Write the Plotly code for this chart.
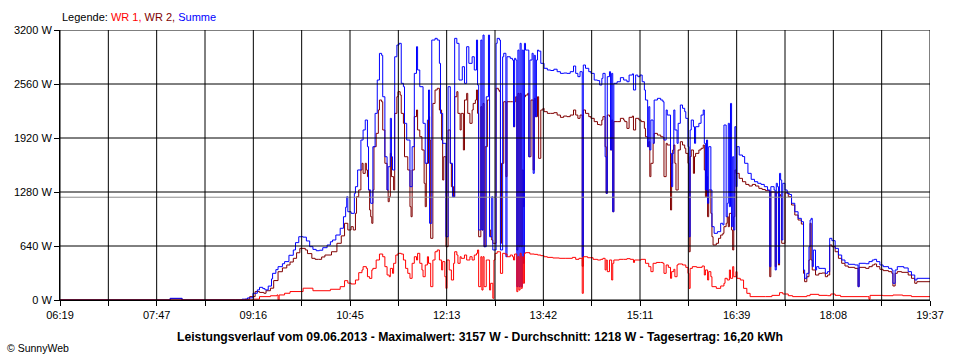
import plotly.graph_objects as go

# ---- data (time in minutes after midnight, power in W) ----
X_START, X_END = 379, 1177          # 06:19 ... 19:37
X_LABELS = ["06:19", "07:47", "09:16", "10:45", "12:13", "13:42", "15:11", "16:39", "18:08", "19:37"]
Y_TICKS = [0, 640, 1280, 1920, 2560, 3200]
Y_LABELS = ["0 W", "640 W", "1280 W", "1920 W", "2560 W", "3200 W"]
AVERAGE_W = 1218

WR1 = [(379,0),(556,10),(562,40),(572,50),(578,60),(579,0),(580,60),(585,80),(590,100),(602,140),(611,110),(627,127),(636,158),(640,229),(643,200),(646,190),(650,237),(653,324),(656,356),(657,395),(660,375),(661,276),(663,256),(665,356),(666,375),(669,474),(672,545),(675,513),(677,395),(679,296),(681,276),(682,375),(684,316),(685,435),(687,533),(689,553),(692,545),(694,474),(696,375),(698,316),(700,257),(702,435),(704,513),(706,474),(707,553),(709,435),(711,356),(712,276),(714,415),(716,513),(717,435),(719,158),(721,474),(723,572),(725,593),(727,474),(729,356),(730,455),(732,276),(733,138),(734,474),(736,356),(738,237),(740,435),(741,572),(743,533),(744,435),(746,513),(747,494),(750,533),(752,474),(755,513),(757,474),(759,533),(761,553),(762,593),(763,158),(765,513),(766,118),(767,513),(768,158),(770,474),(771,474),(773,118),(774,198),(776,20),(777,474),(778,553),(780,572),(782,572),(783,316),(785,553),(787,545),(789,513),(792,533),(794,513),(795,474),(796,545),(798,99),(799,513),(800,118),(801,553),(802,138),(803,513),(804,198),(805,553),(806,561),(810,545),(814,541),(817,533),(820,525),(823,513),(826,505),(831,498),(837,494),(843,494),(849,505),(852,482),(855,494),(858,79),(859,513),(863,501),(868,482),(872,474),(875,482),(877,494),(879,356),(880,474),(881,336),(883,474),(885,237),(886,435),(887,474),(892,482),(896,482),(899,490),(902,482),(905,445),(906,474),(912,482),(916,435),(919,395),(921,336),(923,435),(926,445),(930,445),(932,435),(933,316),(935,415),(937,387),(939,257),(940,336),(942,364),(943,276),(945,415),(946,427),(950,415),(953,387),(955,316),(956,138),(957,375),(959,395),(963,387),(968,403),(970,296),(971,356),(973,237),(974,336),(976,276),(977,158),(981,138),(985,166),(988,198),(989,257),(991,237),(993,356),(994,257),(996,395),(997,276),(999,336),(1000,257),(1003,237),(1006,138),(1009,79),(1012,40),(1026,40),(1032,55),(1039,87),(1042,71),(1047,51),(1051,40),(1064,51),(1067,67),(1075,55),(1083,51),(1086,71),(1090,55),(1095,40),(1120,40),(1121,8),(1122,55),(1134,51),(1143,59),(1152,51),(1160,40),(1177,40)]

WR2 = [(379,0),(480,15),(491,0),(540,0),(549,10),(553,40),(558,100),(562,90),(566,80),(568,110),(572,140),(575,230),(579,335),(583,380),(587,415),(590,450),(593,494),(596,560),(599,612),(604,593),(606,550),(610,494),(613,482),(616,482),(619,510),(622,533),(628,572),(633,672),(637,760),(640,909),(643,830),(646,869),(648,830),(650,1027),(651,1224),(653,1304),(655,1541),(656,1620),(657,1501),(659,1620),(660,1541),(661,1462),(662,1304),(663,1067),(664,987),(665,909),(666,1304),(667,1817),(669,1975),(671,2252),(672,2370),(674,2350),(675,2015),(677,1620),(679,1304),(680,1165),(681,1224),(682,1738),(683,1462),(685,1304),(686,2212),(688,2409),(689,2469),(691,2430),(692,2212),(694,2094),(695,1698),(698,1541),(700,1106),(701,987),(702,1541),(704,2173),(706,2252),(707,2015),(709,1935),(711,1778),(713,1383),(714,1106),(715,1620),(717,2173),(718,1896),(719,731),(721,2330),(723,2489),(725,2509),(727,2252),(729,1896),(730,1422),(731,1698),(733,632),(735,2015),(737,1620),(738,1343),(740,1224),(741,2409),(743,2469),(744,2212),(746,2015),(747,2212),(749,1778),(750,2370),(752,2449),(753,2212),(755,2094),(757,2252),(758,2330),(760,2370),(761,2489),(762,2212),(763,750),(765,2291),(766,830),(767,2330),(768,632),(769,1817),(771,2370),(772,2370),(773,830),(774,750),(775,711),(776,672),(779,2509),(781,2489),(782,2470),(783,672),(784,1620),(786,2350),(788,1462),(789,2350),(792,2350),(794,2350),(795,2054),(796,2350),(797,2409),(798,593),(799,2449),(800,632),(801,2449),(802,632),(803,1541),(804,1106),(805,2409),(806,2429),(808,2449),(809,1698),(811,2370),(813,1541),(814,2390),(815,2173),(817,2409),(818,1679),(820,2252),(822,2272),(823,2232),(826,2212),(829,2212),(832,2220),(835,2192),(838,2165),(841,2180),(844,2173),(847,2192),(850,2252),(852,2192),(854,2153),(856,2192),(858,400),(859,2252),(861,2212),(864,2173),(866,2153),(869,2114),(872,2080),(874,2074),(876,2133),(877,2173),(879,1817),(880,1264),(881,2192),(883,2173),(884,1778),(885,2133),(886,1046),(887,2114),(890,2114),(893,2153),(896,2133),(897,2114),(899,2034),(901,2165),(904,2180),(905,2015),(907,2153),(910,2133),(912,2114),(915,2034),(916,1935),(918,1817),(919,1876),(920,1462),(921,1620),(923,1857),(924,1975),(927,1955),(930,1935),(932,1930),(933,1462),(935,1857),(936,1837),(939,1067),(940,1620),(941,1778),(942,1837),(943,1620),(944,1304),(946,1778),(948,1876),(950,1837),(952,1798),(953,1738),(955,1620),(956,572),(957,1700),(958,1778),(960,1501),(961,1700),(962,1738),(965,1778),(967,1798),(969,1837),(970,1541),(971,1224),(972,1462),(973,987),(974,1304),(976,1027),(977,750),(978,652),(981,672),(983,731),(985,770),(987,790),(988,869),(990,909),(991,987),(992,869),(993,1027),(995,830),(996,593),(997,987),(998,1541),(999,1501),(1000,1501),(1002,1442),(1005,1402),(1008,1370),(1011,1351),(1014,1370),(1017,1351),(1020,1323),(1023,1310),(1026,1296),(1030,276),(1031,1280),(1034,1280),(1035,395),(1036,1270),(1038,415),(1039,1250),(1040,1230),(1041,672),(1044,1270),(1047,1224),(1050,1126),(1053,1007),(1056,948),(1059,900),(1061,316),(1062,217),(1064,276),(1066,474),(1067,909),(1068,474),(1069,356),(1072,296),(1075,316),(1078,320),(1081,276),(1083,296),(1085,652),(1087,632),(1090,572),(1093,494),(1096,435),(1099,403),(1102,387),(1108,375),(1111,158),(1112,387),(1118,375),(1121,395),(1124,415),(1126,427),(1128,395),(1131,364),(1134,348),(1139,336),(1142,316),(1143,166),(1145,316),(1147,336),(1151,328),(1157,296),(1160,257),(1163,198),(1165,217),(1177,217)]

SUMME = [(379,0),(480,20),(491,0),(540,0),(546,10),(551,25),(556,80),(560,120),(562,150),(565,135),(567,120),(570,165),(573,250),(574,316),(577,360),(579,395),(583,430),(585,455),(589,530),(593,593),(595,680),(598,750),(602,745),(605,700),(608,632),(611,600),(614,584),(617,590),(620,620),(624,652),(627,690),(629,711),(632,770),(636,850),(639,987),(641,1100),(642,1224),(643,1046),(646,1027),(649,1264),(650,1343),(652,1541),(655,1896),(657,2015),(659,2133),(661,1817),(662,1304),(664,1146),(666,1817),(668,2212),(670,2607),(672,2923),(674,2900),(675,2409),(677,1698),(679,1304),(680,1580),(682,2153),(683,1698),(684,1541),(686,2883),(688,3022),(690,3042),(692,2568),(694,2528),(695,2094),(697,1896),(700,1343),(702,1817),(704,2686),(706,3002),(707,2726),(709,2528),(712,2094),(714,1620),(716,2133),(717,2489),(718,909),(720,3081),(723,3101),(725,3081),(727,2805),(728,2212),(730,1857),(733,750),(735,2528),(737,1620),(739,1224),(741,3101),(743,3042),(745,2607),(748,2765),(750,2568),(752,3002),(754,2805),(757,2883),(759,2726),(761,3081),(762,2548),(763,830),(765,3081),(766,830),(767,3140),(768,632),(770,2409),(772,3140),(773,750),(775,1224),(776,593),(779,3042),(780,3101),(782,3081),(783,593),(785,2883),(786,2924),(788,513),(789,2883),(792,2864),(794,2844),(795,2054),(796,2864),(797,2844),(798,158),(799,2962),(800,158),(801,3042),(802,158),(803,2962),(804,435),(805,3042),(806,2962),(808,2962),(809,1698),(810,2844),(812,2924),(813,1501),(814,2900),(815,2173),(816,2844),(817,2962),(818,2950),(820,2805),(823,2746),(826,2726),(829,2720),(832,2735),(835,2706),(838,2686),(841,2690),(844,2686),(847,2706),(850,2773),(852,2686),(854,2647),(856,2706),(858,513),(859,2785),(861,2746),(864,2706),(866,2686),(869,2607),(872,2600),(874,2548),(876,2627),(877,2686),(879,1698),(880,1264),(881,2647),(883,2706),(884,1778),(885,2686),(886,1046),(887,2568),(890,2587),(893,2635),(896,2607),(899,2587),(901,2666),(904,2680),(905,2489),(907,2666),(909,2647),(911,2666),(913,2587),(915,2489),(916,2370),(918,1817),(919,2291),(920,1778),(921,2133),(923,1857),(924,2370),(927,2390),(930,2370),(932,2350),(933,1896),(935,2252),(936,2192),(939,1738),(940,1343),(941,1738),(942,2252),(943,2015),(945,1857),(946,2094),(948,2311),(950,2272),(952,2232),(953,2153),(955,1817),(956,750),(957,2015),(958,2133),(960,2054),(961,1857),(962,2054),(965,2094),(967,2192),(969,2252),(970,1857),(971,1304),(972,1896),(973,1146),(974,1817),(976,1304),(977,869),(979,790),(982,810),(985,909),(987,890),(988,2074),(990,987),(991,1146),(992,2094),(993,1106),(994,2330),(995,869),(996,1698),(997,830),(998,2054),(999,1343),(1000,1817),(1002,1718),(1005,1700),(1007,1620),(1010,1501),(1013,1430),(1016,1402),(1019,1383),(1022,1370),(1025,1343),(1028,1304),(1030,395),(1031,1343),(1034,1304),(1035,356),(1036,1383),(1037,1343),(1038,435),(1039,1501),(1040,1422),(1041,711),(1042,1383),(1044,1304),(1046,1264),(1048,1250),(1050,1146),(1053,1046),(1056,968),(1059,928),(1061,356),(1062,257),(1064,316),(1066,632),(1067,948),(1068,968),(1069,395),(1070,592),(1072,356),(1073,395),(1075,375),(1078,375),(1081,316),(1083,336),(1085,731),(1087,703),(1090,612),(1093,533),(1096,474),(1099,442),(1102,423),(1108,415),(1111,158),(1112,435),(1118,430),(1121,455),(1124,474),(1126,482),(1128,455),(1131,415),(1134,395),(1139,375),(1142,356),(1143,198),(1145,356),(1147,395),(1153,380),(1157,336),(1160,296),(1163,237),(1165,257),(1177,257)]

COLORS = {"WR 1": "#ff0000", "WR 2": "#800000", "Summe": "#0000ff"}

# ---- figure ----
fig = go.Figure()
for name, series in [("WR 2", WR2), ("Summe", SUMME), ("WR 1", WR1)]:
    xs = [p[0] for p in series]
    ys = [p[1] for p in series]
    fig.add_trace(go.Scatter(x=xs, y=ys, mode="lines", name=name,
                             line=dict(color=COLORS[name], width=1, shape="hv"),
                             hoverinfo="skip", showlegend=False))

n_grid = 18
step = (X_END - X_START) / n_grid
x_grid = [X_START + i * step for i in range(n_grid + 1)]
x_text = [X_LABELS[i // 2] if i % 2 == 0 else "" for i in range(n_grid + 1)]

shapes = [dict(type="line", xref="x", yref="y", x0=X_START, x1=X_END,
               y0=AVERAGE_W, y1=AVERAGE_W, line=dict(color="#8c8c8c", width=1),
               layer="above")]
for xv in x_grid:
    shapes.append(dict(type="line", xref="x", yref="y", x0=xv, x1=xv, y0=0, y1=Y_TICKS[-1],
                       line=dict(color="black", width=1), layer="above"))
for yv in Y_TICKS:
    shapes.append(dict(type="line", xref="x", yref="y", x0=X_START, x1=X_END, y0=yv, y1=yv,
                       line=dict(color="black", width=1), layer="above"))

font_main = "Liberation Sans, Arial, sans-serif"
legend_text = ("Legende: <span style='color:#ff0000'>WR 1,</span> "
               "<span style='color:#800000'>WR 2,</span> "
               "<span style='color:#0000ff'>Summe</span>")
title_text = ("<b>Leistungsverlauf vom 09.06.2013 - Maximalwert: 3157 W - "
              "Durchschnitt: 1218 W - Tagesertrag: 16,20 kWh</b>")

fig.update_layout(
    width=960, height=360,
    margin=dict(l=60, r=30, t=30, b=60),
    paper_bgcolor="white", plot_bgcolor="white",
    font=dict(family=font_main, size=11, color="black"),
    shapes=shapes,
    annotations=[
        dict(text=legend_text, xref="paper", yref="paper", x=0, y=1.048,
             xanchor="left", yanchor="middle", showarrow=False,
             font=dict(size=11, color="black")),
        dict(text=title_text, xref="paper", yref="paper", x=0.4828, y=-0.137,
             xanchor="center", yanchor="middle", showarrow=False,
             font=dict(size=12.2, color="black")),
        dict(text="© SunnyWeb", xref="paper", yref="paper", x=-0.0632, y=-0.176,
             xanchor="left", yanchor="middle", showarrow=False,
             font=dict(size=10.5, color="black")),
    ],
    xaxis=dict(range=[X_START, X_END], tickmode="array", tickvals=x_grid, ticktext=x_text,
               showgrid=False, zeroline=False, showline=True, linecolor="black", linewidth=1,
               ticks="outside", ticklen=5, tickcolor="black", tickwidth=1,
               tickfont=dict(size=11), fixedrange=True),
    yaxis=dict(range=[0, Y_TICKS[-1]], tickmode="array", tickvals=Y_TICKS, ticktext=Y_LABELS,
               showgrid=False, zeroline=False, showline=True, linecolor="black", linewidth=1,
               ticks="outside", ticklen=5, tickcolor="black", tickwidth=1,
               tickfont=dict(size=11), fixedrange=True),
)

fig.write_html("out.html", config={"displayModeBar": False},
               post_script="document.body.style.margin='0';document.body.style.overflow='hidden';")
